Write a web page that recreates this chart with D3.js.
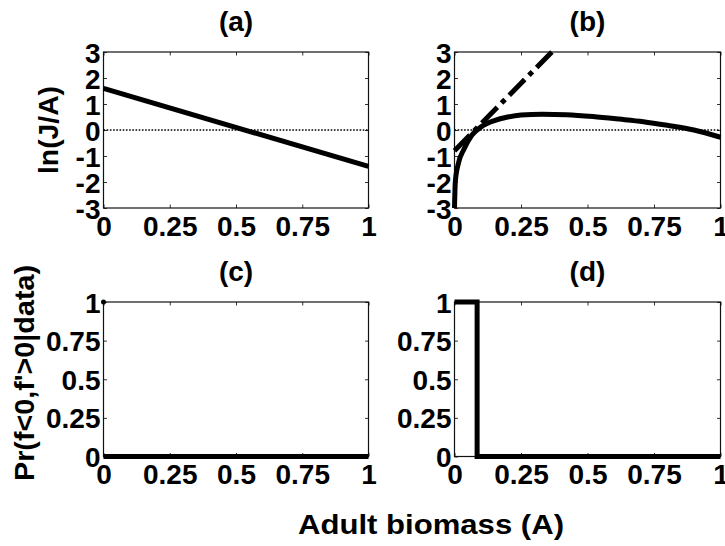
<!DOCTYPE html>
<html><head><meta charset="utf-8">
<script src="https://cdn.jsdelivr.net/npm/d3@7"></script>
<style>
body{margin:0;background:#fff}
svg text{font-family:"Liberation Sans",Arial,sans-serif;font-weight:bold;fill:#000}
</style>
</head><body><svg id="chart" width="725" height="546"></svg>
<script>
// ---- data ----
const xTicks = [0, 0.25, 0.5, 0.75, 1];
const xTickLabels = ["0", "0.25", "0.5", "0.75", "1"];
const yTicksTop = [-3, -2, -1, 0, 1, 2, 3];
const yTickLabelsTop = ["-3", "-2", "-1", "0", "1", "2", "3"];
const yTicksBottom = [0, 0.25, 0.5, 0.75, 1];
const yTickLabelsBottom = ["0", "0.25", "0.5", "0.75", "1"];
const panelTitles = ["(a)", "(b)", "(c)", "(d)"];
const yLabelTop = "ln(J/A)";
const yLabelBottom = "Pr(f<0,f'>0|data)";
const xLabel = "Adult biomass (A)";

// panel (a): ln(J/A) vs A
const aX = [0, 1];
const aY = [1.6, -1.4];
// panel (b): solid curve
const bX = [0, 0.003, 0.015, 0.035, 0.065, 0.1, 0.15, 0.2, 0.25, 0.33, 0.42, 0.52, 0.62, 0.71, 0.8, 0.9, 1.0];
const bY = [-3, -2.0, -1.27, -0.75, -0.2, 0.12, 0.36, 0.5, 0.58, 0.61, 0.59, 0.52, 0.42, 0.32, 0.18, 0.0, -0.28];
// panel (b): dash-dot line
const bDashX = [0, 0.366];
const bDashY = [-0.8, 3.0];
// zero reference line (dotted)
const refX = [0, 1];
const refY = [0, 0];
// panel (c)
const cX = [0, 1];
const cY = [0, 0];
const cPointX = [0];
const cPointY = [1];
// panel (d)
const dX = [0, 0.085, 0.085, 1];
const dY = [1, 1, 0, 0];

// ---- layout ----
const svg = d3.select("#chart");
const panels = [
  {x0: 103.5, x1: 368.5, y0: 52, y1: 208, top: true},
  {x0: 454.5, x1: 720.5, y0: 52, y1: 208, top: true},
  {x0: 103.5, x1: 368.5, y0: 302, y1: 456.5, top: false},
  {x0: 454.5, x1: 720.5, y0: 302, y1: 456.5, top: false}
];
const TICK_FS = 28, TITLE_FS = 28, LABEL_FS = 28;

panels.forEach((p, i) => {
  p.x = d3.scaleLinear().domain([0, 1]).range([p.x0, p.x1]);
  p.y = p.top ? d3.scaleLinear().domain([-3, 3]).range([p.y1, p.y0])
              : d3.scaleLinear().domain([0, 1]).range([p.y1, p.y0]);
  const g = svg.append("g");
  p.g = g;
  const yT = p.top ? yTicksTop : yTicksBottom;
  const yL = p.top ? yTickLabelsTop : yTickLabelsBottom;

  const ax = (gen, tr) => {
    const a = g.append("g").attr("transform", tr).call(gen);
    a.select(".domain").remove();
    a.attr("font-family", null).attr("font-size", null);
    a.selectAll(".tick line").attr("stroke", "#333").attr("stroke-width", 1);
    return a;
  };
  const bottom = ax(d3.axisBottom(p.x).tickValues(xTicks).tickFormat((d, k) => xTickLabels[k]).tickSize(-3.5).tickPadding(8), `translate(0,${p.y1})`);
  bottom.selectAll("text").attr("font-size", TICK_FS).attr("fill", "#000");
  ax(d3.axisTop(p.x).tickValues(xTicks).tickFormat("").tickSize(-3.5), `translate(0,${p.y0})`);
  const left = ax(d3.axisLeft(p.y).tickValues(yT).tickFormat((d, k) => yL[k]).tickSize(-3.5).tickPadding(3), `translate(${p.x0},0)`);
  left.selectAll("text").attr("font-size", TICK_FS).attr("fill", "#000").attr("dy", "0.36em");
  ax(d3.axisRight(p.y).tickValues(yT).tickFormat("").tickSize(-3.5), `translate(${p.x1},0)`);

  g.append("rect").attr("x", p.x0).attr("y", p.y0).attr("width", p.x1 - p.x0).attr("height", p.y1 - p.y0)
    .attr("fill", "none").attr("stroke", "#111").attr("stroke-width", 1.2);

  g.append("text").attr("x", (p.x0 + p.x1) / 2).attr("y", p.y0 - 21).attr("text-anchor", "middle")
    .attr("font-size", TITLE_FS).text(panelTitles[i]);
});

const lineGen = (p) => d3.line().x(d => p.x(d[0])).y(d => p.y(d[1]));
const zip = (xs, ys) => xs.map((v, k) => [v, ys[k]]);
const thick = (sel) => sel.attr("fill", "none").attr("stroke", "#000").attr("stroke-width", 5)
  .attr("stroke-linejoin", "miter").attr("stroke-linecap", "butt");

[0, 1].forEach(i => {
  const p = panels[i];
  p.g.append("path").attr("d", lineGen(p)(zip(refX, refY))).attr("fill", "none")
    .attr("stroke", "#000").attr("stroke-width", 1.4).attr("stroke-dasharray", "1.6,1.6");
});

thick(panels[0].g.append("path").attr("d", lineGen(panels[0])(zip(aX, aY))));
thick(panels[1].g.append("path").attr("d", lineGen(panels[1])(zip(bDashX, bDashY))))
  .attr("stroke-dasharray", "22,6,5,6");
thick(panels[1].g.append("path").attr("d", lineGen(panels[1]).curve(d3.curveMonotoneX)(zip(bX, bY))));
thick(panels[2].g.append("path").attr("d", lineGen(panels[2])(zip(cX, cY))));
panels[2].g.selectAll("circle.pt").data(zip(cPointX, cPointY)).enter().append("circle")
  .attr("cx", d => panels[2].x(d[0])).attr("cy", d => panels[2].y(d[1])).attr("r", 2.5).attr("fill", "#000");
thick(panels[3].g.append("path").attr("d", lineGen(panels[3])(zip(dX, dY))));

svg.append("text").attr("transform", `translate(58,130) rotate(-90)`).attr("text-anchor", "middle")
  .attr("font-size", LABEL_FS).attr("textLength", 88).attr("lengthAdjust", "spacingAndGlyphs").text(yLabelTop);
svg.append("text").attr("transform", `translate(34,373) rotate(-90)`).attr("text-anchor", "middle")
  .attr("font-size", LABEL_FS).attr("textLength", 216).attr("lengthAdjust", "spacingAndGlyphs").text(yLabelBottom);
svg.append("text").attr("x", 431).attr("y", 534).attr("text-anchor", "middle")
  .attr("font-size", LABEL_FS).attr("textLength", 266).attr("lengthAdjust", "spacingAndGlyphs").text(xLabel);
</script>
</body></html>
